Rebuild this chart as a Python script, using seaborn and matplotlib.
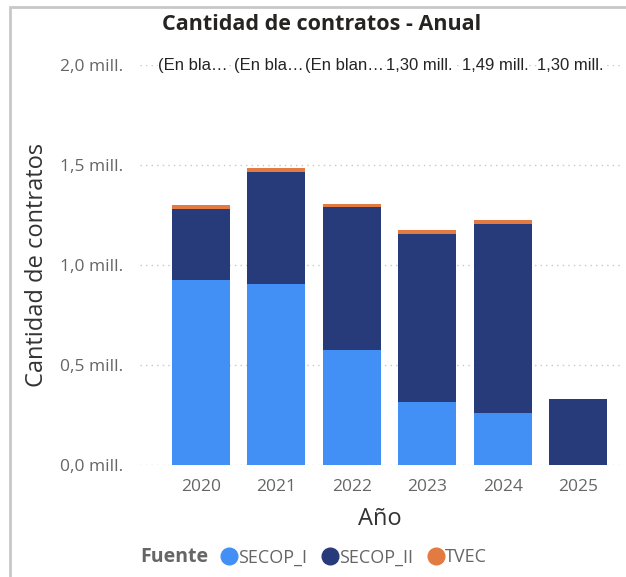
import matplotlib
matplotlib.use("Agg")
import matplotlib.pyplot as plt
import seaborn as sns
import pandas as pd
from matplotlib.lines import Line2D
from matplotlib.ticker import FuncFormatter

# datos (cantidad de contratos por año y fuente)
anios = ["2020", "2021", "2022", "2023", "2024", "2025"]
secop_i = [925000, 905000, 575000, 315000, 260000, 0]
secop_ii = [355000, 560000, 715000, 842000, 945000, 330000]
tvec = [20000, 20000, 18000, 21000, 20000, 0]
etiquetas_sup = ["(En bla…", "(En bla…", "(En blan…", "1,30 mill.", "1,49 mill.", "1,30 mill."]
fuentes = ["SECOP_I", "SECOP_II", "TVEC"]
colores = ["#4290F5", "#273A7A", "#E27A42"]

df = pd.DataFrame({"Año": anios, "SECOP_I": secop_i, "SECOP_II": secop_ii, "TVEC": tvec})
df["hasta_II"] = df["SECOP_I"] + df["SECOP_II"]
df["total"] = df["hasta_II"] + df["TVEC"]

sns.set_style("white")
plt.rcParams["font.family"] = ["Open Sans", "DejaVu Sans"]

fig = plt.figure(figsize=(6.26, 5.77), dpi=100)
ax = fig.add_axes([0.224, 0.194, 0.766, 0.693])

# barras apiladas: se dibuja el acumulado de arriba hacia abajo
for col, c, z in [("total", colores[2], 2), ("hasta_II", colores[1], 3), ("SECOP_I", colores[0], 4)]:
    sns.barplot(data=df, x="Año", y=col, color=c, saturation=1, width=0.77, ax=ax,
                zorder=z, linewidth=0, edgecolor="none")

ax.set_ylim(0, 2000000)
ax.set_xlim(-0.8, 5.55)
ax.set_yticks([0, 500000, 1000000, 1500000, 2000000])
ax.yaxis.set_major_formatter(FuncFormatter(lambda v, p: f"{v/1e6:.1f}".replace(".", ",") + " mill."))
ax.grid(axis="y", linestyle=(0, (1, 3)), color="#C8C8C8", linewidth=1, zorder=0)
ax.set_axisbelow(True)
for s in ax.spines.values():
    s.set_visible(False)
ax.tick_params(axis="both", length=0, labelsize=12.5, labelcolor="#666666", pad=10)
ax.tick_params(axis="y", pad=12)

ax.set_xlabel("Año", fontsize=17, color="#333333", labelpad=9)
ax.set_ylabel("Cantidad de contratos", fontsize=17, color="#333333", labelpad=8)

# etiquetas de la fila superior
for i, t in enumerate(etiquetas_sup):
    ax.text(i - 0.1, 2000000, t, ha="center", va="center", fontsize=12, color="#252423",
            family=["Liberation Sans", "DejaVu Sans"],
            bbox=dict(facecolor="white", edgecolor="none", pad=0.5), zorder=5, clip_on=False)

fig.text(0.514, 0.957, "Cantidad de contratos - Anual", ha="center", va="center",
         fontsize=15.5, fontweight="bold", color="#252423")

# leyenda
fig.text(0.224, 0.034, "Fuente", ha="left", va="center", fontsize=14, fontweight="bold", color="#666666")
handles = [Line2D([0], [0], marker="o", linestyle="", markersize=12, markerfacecolor=c, markeredgecolor=c)
           for c in colores]
fig.legend(handles, fuentes, loc="center left", bbox_to_anchor=(0.352, 0.034), ncol=3, frameon=False,
           fontsize=13, labelcolor="#666666", handletextpad=0.0, columnspacing=0.75, handlelength=1.0,
           borderaxespad=0, borderpad=0)

# marco del visual
fig.add_artist(Line2D([0.016, 0.016], [0, 0.988], color="#C8C8C8", linewidth=2, transform=fig.transFigure))
fig.add_artist(Line2D([0.016, 1.0], [0.988, 0.988], color="#C8C8C8", linewidth=2, transform=fig.transFigure))

fig.savefig("out.png", dpi=100)
